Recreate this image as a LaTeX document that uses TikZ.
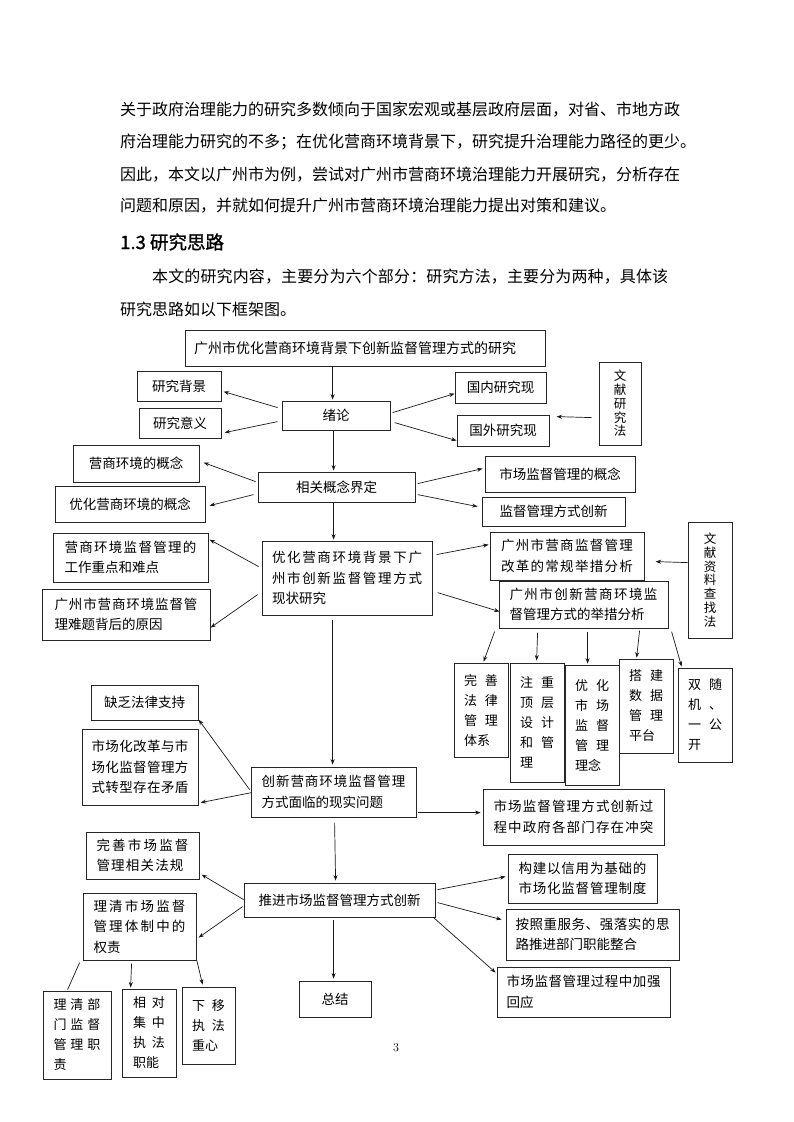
\documentclass[tikz,border=0pt]{standalone}
\usepackage{fontspec}
\newfontfamily\cjk{Noto Sans CJK SC}
\newfontfamily\cjkb[FakeBold=1.2]{Noto Sans CJK SC}
\usetikzlibrary{arrows.meta,calc}
\def\sprA#1{#1\sprB}
\def\sprB#1{\ifx#1\relax\else\hfil#1\expandafter\sprB\fi}
\newcommand\Jst[2]{\makebox[#1][s]{\sprA#2\relax}}
\newcommand\BXn[7][]{%
  \pgfmathsetmacro\bxw{#5-#3}%
  \pgfmathsetmacro\bxh{#6-#4}%
  \pgfmathsetmacro\bxx{(#3+#5)/2}%
  \pgfmathsetmacro\bxy{(#4+#6)/2}%
  \node[box,#1,minimum width=\bxw pt,minimum height=\bxh pt] (#2) at (\bxx,\bxy) {#7};}
\begin{document}
\begin{tikzpicture}[x=1pt,y=-1pt,
 box/.style={draw=black!85,line width=0.8pt,inner sep=0pt,align=left,font=\cjk\fontsize{13.5}{20.5}\selectfont},
 sub/.style={font=\cjk\fontsize{13}{20}\selectfont},
 vert/.style={align=center,font=\cjk\fontsize{12.5}{13.8}\selectfont},
 arr/.style={draw=black!90,line width=0.7pt,-{Stealth[length=5.5pt,width=4pt]}},
 ln/.style={draw=black!90,line width=0.7pt},
 txt/.style={anchor=west,inner sep=0pt,font=\cjk\fontsize{16}{18}\selectfont}]
\fill[white] (0,0) rectangle (793,1122);
\useasboundingbox (0,0) rectangle (793,1122);

% paragraph text
\node[txt] (p1) at (120,110) {\Jst{548pt}{关于政府治理能力的研究多数倾向于国家宏观或基层政府层面，对省、市地方政}};
\node[txt] (p2) at (120,142) {\Jst{548pt}{府治理能力研究的不多；在优化营商环境背景下，研究提升治理能力路径的更少。}};
\node[txt] (p3) at (120,175) {\Jst{548pt}{因此，本文以广州市为例，尝试对广州市营商环境治理能力开展研究，分析存在}};
\node[txt] (p4) at (120,206) {问题和原因，并就如何提升广州市营商环境治理能力提出对策和建议。};
\node[txt,font=\cjkb\fontsize{18.5}{20}\selectfont] (h1) at (120,242) {1.3 研究思路};
\node[txt] (p5) at (152,277) {\Jst{516pt}{本文的研究内容，主要分为六个部分：研究方法，主要分为两种，具体该}};
\node[txt] (p6) at (120,309) {研究思路如以下框架图。};

% boxes
\BXn[font=\cjk\fontsize{14}{20}\selectfont]{tt}{185}{330}{545}{366}{广州市优化营商环境背景下创新监督管理方式的研究\hspace*{20pt}}
\BXn{bj}{137}{371}{221}{401}{研究背景}
\BXn{yy}{139}{408}{221}{438}{研究意义}
\BXn{xl}{282}{401}{390}{430}{绪论}
\BXn{gn}{455}{372}{546}{403}{国内研究现}
\BXn{gw}{457}{415}{549}{446}{国外研究现}
\BXn[vert]{wx}{599}{362}{641}{445}{文\\献\\研\\究\\法}
\BXn{xgg}{258}{472}{415}{502}{相关概念界定}
\BXn{yc}{73}{445}{199}{482}{营商环境的概念}
\BXn{yh}{55}{486}{205}{522}{优化营商环境的概念}
\BXn{sc}{485}{456}{635}{492}{市场监督管理的概念}
\BXn{jd}{482}{497}{625}{526}{监督管理方式创新}
\BXn{xz}{262}{541}{432}{615}{\Jst{150pt}{优化营商环境背景下广}\\\Jst{150pt}{州市创新监督管理方式}\\现状研究}
\BXn{zd}{53}{533}{208}{582}{\Jst{132pt}{营商环境监督管理的}\\工作重点和难点}
\BXn{yq}{42}{589}{210}{640}{\Jst{143pt}{广州市营商环境监督管}\\理难题背后的原因}
\BXn{cg}{490}{532}{644}{580}{\Jst{132pt}{广州市营商监督管理}\\\Jst{132pt}{改革的常规举措分析}}
\BXn{cx}{499}{581}{668}{628}{\Jst{148pt}{广州市创新营商环境监}\\督管理方式的举措分析}
\BXn[vert]{wz}{688}{522}{732}{638}{文\\献\\资\\料\\查\\找\\法}
\BXn[sub]{b1}{454}{663}{508}{757}{\Jst{34pt}{完善}\\\Jst{34pt}{法律}\\\Jst{34pt}{管理}\\体系}
\BXn[sub]{b2}{510}{663}{564}{782}{\Jst{34pt}{注重}\\\Jst{34pt}{顶层}\\\Jst{34pt}{设计}\\\Jst{34pt}{和管}\\理}
\BXn[sub]{b3}{565}{665}{619}{785}{\Jst{34pt}{优化}\\\Jst{34pt}{市场}\\\Jst{34pt}{监督}\\\Jst{34pt}{管理}\\理念}
\BXn[sub]{b4}{619}{659}{673}{753}{\Jst{34pt}{搭建}\\\Jst{34pt}{数据}\\\Jst{34pt}{管理}\\平台}
\BXn[sub]{b5}{678}{668}{732}{762}{\Jst{34pt}{双随}\\\Jst{34pt}{机、}\\\Jst{34pt}{一公}\\开}
\BXn{qf}{91}{685}{198}{720}{缺乏法律支持}
\BXn{mz}{82}{729}{198}{805}{\Jst{97pt}{市场化改革与市}\\\Jst{97pt}{场化监督管理方}\\\Jst{97pt}{式转型存在矛盾}}
\BXn{wt}{251}{767}{416}{817}{\Jst{144pt}{创新营商环境监督管理}\\方式面临的现实问题}
\BXn{sj}{483}{789}{664}{845}{\Jst{160pt}{市场监督管理方式创新过}\\\Jst{160pt}{程中政府各部门存在冲突}}
\BXn{ws}{86}{832}{199}{879}{\Jst{92pt}{完善市场监督}\\\Jst{87pt}{管理相关法规}}
\BXn{tj}{244}{883}{435}{917}{推进市场监督管理方式创新}
\BXn{lq}{83}{893}{196}{960}{\Jst{92pt}{理清市场监督}\\\Jst{92pt}{管理体制中的}\\权责}
\BXn{gj}{508}{854}{657}{903}{\Jst{128pt}{构建以信用为基础的}\\\Jst{128pt}{市场化监督管理制度}}
\BXn{az}{506}{909}{679}{960}{\Jst{154pt}{按照重服务、强落实的思}\\路推进部门职能整合}
\BXn{hy}{497}{967}{670}{1017}{\Jst{154pt}{市场监督管理过程中加强}\\回应}
\BXn[sub]{lb}{43}{991}{111}{1079}{\Jst{47pt}{理清部}\\\Jst{47pt}{门监督}\\\Jst{47pt}{管理职}\\责}
\BXn[sub]{xd}{122}{989}{176}{1077}{\Jst{32pt}{相对}\\\Jst{32pt}{集中}\\\Jst{32pt}{执法}\\职能}
\BXn[sub]{xy}{182}{987}{235}{1064}{\Jst{33pt}{下移}\\\Jst{33pt}{执法}\\重心}
\BXn{zj}{299}{981}{371}{1017}{总结}

\node[inner sep=0pt,font=\fontsize{12}{14}\selectfont] (pg) at (396,1048) {3};

% connectors
\draw[arr] ($(tt.north west)+(148,36)$) -- ($(xl.north west)+(51,-1)$);
\draw[arr] ($(xl.north west)+(-4,7)$) -- ($(bj.north west)+(87,21)$);
\draw[arr] ($(xl.north west)+(-4,21)$) -- ($(yy.north west)+(86,25)$);
\draw[arr] ($(xl.north west)+(111,12)$) -- ($(gn.north west)+(0,22)$);
\draw[arr] ($(xl.north west)+(113,22)$) -- ($(gw.north west)+(0,26)$);
\draw[arr] ($(wx.north west)+(-7,56)$) -- ($(gw.north west)+(100,2)$);
\draw[arr] ($(xl.north west)+(52,30)$) -- ($(xgg.north west)+(76,-1)$);
\draw[arr] ($(xgg.north west)+(-2,10)$) -- ($(yc.north west)+(131,18)$);
\draw[arr] ($(xgg.north west)+(-4,23)$) -- ($(yh.north west)+(155,20)$);
\draw[arr] ($(xgg.north west)+(160,12)$) -- ($(sc.north west)+(-2,13)$);
\draw[arr] ($(xgg.north west)+(160,23)$) -- ($(jd.north west)+(-4,10)$);
\draw[arr] ($(xgg.north west)+(76,31)$) -- ($(xz.north west)+(72,-1)$);
\draw[arr] ($(xz.north west)+(-3,26)$) -- ($(zd.north west)+(157,7)$);
\draw[arr] ($(xz.north west)+(-4,54)$) -- ($(yq.north west)+(169,39)$);
\draw[arr] ($(xz.north west)+(175,14)$) -- ($(cg.north west)+(-1,13)$);
\draw[arr] ($(xz.north west)+(176,52)$) -- ($(cx.north west)+(1,31)$);
\draw[arr] ($(wz.north west)+(0,41)$) -- ($(cg.north west)+(166,30)$);
\draw[arr] ($(cx.north west)+(-4,51)$) -- ($(b1.north west)+(30,-1)$);
\draw[arr] ($(cx.north west)+(39,52)$) -- ($(b2.north west)+(27,-2)$);
\draw[arr] ($(cx.north west)+(89,51)$) -- ($(b3.north west)+(23,-1)$);
\draw[arr] ($(cx.north west)+(141,50)$) -- ($(b4.north west)+(18,-1)$);
\draw[arr] ($(cx.north west)+(173,51)$) -- ($(b5.north west)+(4,-1)$);
\draw[arr] ($(xz.north west)+(71,79)$) -- ($(wt.north west)+(82,-2)$);
\draw[arr] ($(wt.north west)+(-1,23)$) -- ($(qf.north west)+(108,35)$);
\draw[arr] ($(wt.north west)+(1,26)$) -- ($(mz.north west)+(119,74)$);
\draw[arr] ($(wt.north west)+(167,46)$) -- ($(sj.north west)+(-2,24)$);
\draw[arr] ($(wt.north west)+(84,56)$) -- ($(tj.north west)+(92,-2)$);
\draw[arr] ($(tj.north west)+(0,17)$) -- ($(ws.north west)+(116,43)$);
\draw[arr] ($(tj.north west)+(-1,24)$) -- ($(lq.north west)+(116,45)$);
\draw[arr] ($(tj.north west)+(194,7)$) -- ($(gj.north west)+(-2,23)$);
\draw[arr] ($(tj.north west)+(194,20)$) -- ($(az.north west)+(-4,11)$);
\draw[arr] ($(tj.north west)+(190,35)$) -- ($(hy.north west)+(-1,6)$);
\draw[arr] ($(tj.north west)+(90,37)$) -- ($(zj.north west)+(35,-2)$);
\draw[ln]  ($(lq.north west)+(-3,70)$) -- ($(lb.north west)+(25,-1)$);
\draw[arr] ($(lq.north west)+(49,71)$) -- ($(xd.north west)+(9,-1)$);
\draw[arr] ($(lq.north west)+(114,67)$) -- ($(xy.north west)+(21,-2)$);
\end{tikzpicture}
\end{document}
